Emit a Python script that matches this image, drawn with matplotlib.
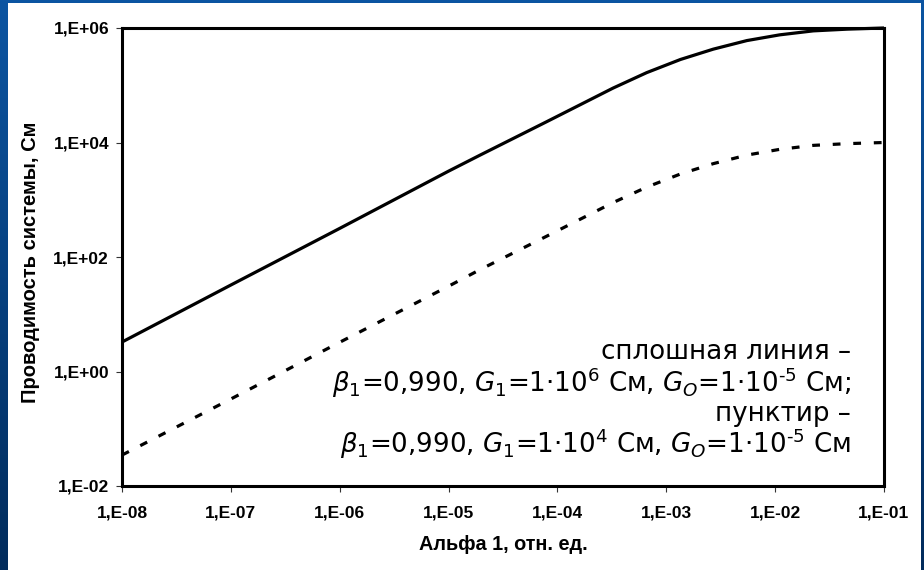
import numpy as np
import matplotlib
matplotlib.use("Agg")
import matplotlib.pyplot as plt
from matplotlib.patches import Rectangle
from matplotlib.colors import LinearSegmentedColormap
from matplotlib.ticker import FixedLocator, FixedFormatter, NullLocator

plt.rcParams['mathtext.fontset'] = 'dejavusans'
plt.rcParams['lines.scale_dashes'] = False

# ---- data ----
alpha = [1e-8, 1e-7, 1e-6, 1e-5, 1.95e-5, 7.9e-5, 3.24e-4, 6.6e-4, 1.35e-3,
         2.7e-3, 5.5e-3, 1.1e-2, 2.24e-2, 4.6e-2, 1e-1]
g_solid = [3.27, 32.4, 316, 3160, 6030, 22900, 89100, 166000, 282000,
           427000, 603000, 759000, 891000, 955000, 1.0e6]
g_dashed = [0.0347, 0.331, 3.24, 30.9, 60.3, 229, 891, 1660, 2820,
            4270, 6030, 7590, 8910, 9550, 10000]

x_ticks = [1e-8, 1e-7, 1e-6, 1e-5, 1e-4, 1e-3, 1e-2, 1e-1]
x_tick_labels = ["1,E-08", "1,E-07", "1,E-06", "1,E-05", "1,E-04", "1,E-03", "1,E-02", "1,E-01"]
y_ticks = [1e-2, 1e0, 1e2, 1e4, 1e6]
y_tick_labels = ["1,E-02", "1,E+00", "1,E+02", "1,E+04", "1,E+06"]

x_label = "Альфа 1, отн. ед."
y_label = "Проводимость системы, См"
note_lines = [
    "сплошная линия –",
    r"$\beta_1$=0,990, $G_{\mathit{1}}$=1·10$^6$ См, $G_{\mathit{O}}$=1·10$^{\text{-5}}$ См;",
    "пунктир –",
    r"$\beta_1$=0,990, $G_{\mathit{1}}$=1·10$^4$ См, $G_{\mathit{O}}$=1·10$^{\text{-5}}$ См",
]

W, H = 924, 570
fig = plt.figure(figsize=(W / 100, H / 100), dpi=100)

# blue slide background gradient
bg = fig.add_axes([0, 0, 1, 1])
grad = np.linspace(0, 1, 256).reshape(-1, 1)
cmap = LinearSegmentedColormap.from_list("bg", ["#0c55a2", "#022c5c"])
bg.imshow(grad, aspect='auto', cmap=cmap, extent=[0, 1, 0, 1], origin='upper')
bg.set_axis_off()
bg.add_patch(Rectangle((8 / W, 0), (921 - 8) / W, (H - 3) / H, transform=bg.transAxes,
                       facecolor='white', edgecolor='none'))

ax = fig.add_axes([122 / W, (H - 486) / H, (884 - 122) / W, (486 - 28) / H])
ax.set_facecolor('white')
ax.plot(alpha, g_solid, color='black', lw=2.3, clip_on=False, solid_capstyle='butt',
        solid_joinstyle='round', zorder=3)
ax.plot(alpha, g_dashed, color='black', lw=2.3, dashes=(5.6, 9.2), clip_on=False, zorder=3)

ax.set_xscale('log')
ax.set_yscale('log')
ax.set_xlim(1e-8, 1e-1)
ax.set_ylim(1e-2, 1e6)

ax.xaxis.set_major_locator(FixedLocator(x_ticks))
ax.xaxis.set_major_formatter(FixedFormatter(x_tick_labels))
ax.xaxis.set_minor_locator(NullLocator())
ax.yaxis.set_major_locator(FixedLocator(y_ticks))
ax.yaxis.set_major_formatter(FixedFormatter(y_tick_labels))
ax.yaxis.set_minor_locator(NullLocator())

for sp in ax.spines.values():
    sp.set_linewidth(2.2)
    sp.set_color('black')

ax.tick_params(axis='both', direction='out', length=4.3, width=0.8, color='#333333')
ax.tick_params(axis='x', pad=9.5)
ax.tick_params(axis='y', pad=5)
for lab in ax.get_xticklabels() + ax.get_yticklabels():
    lab.set_fontfamily('Liberation Sans')
    lab.set_fontweight('bold')
    lab.set_fontsize(12.5)

fig.text(503 / W, 1 - 545 / H, x_label, ha='center', va='center',
         fontfamily='Liberation Sans', fontweight='bold', fontsize=14.3)
fig.text(31 / W, 1 - 262 / H, y_label, ha='center', va='center', rotation=90,
         fontfamily='Liberation Sans', fontweight='bold', fontsize=14.5)

baselines = [359, 392, 421, 453]
for line, b in zip(note_lines, baselines):
    fig.text(851 / W, 1 - b / H, line, ha='right', va='baseline',
             fontfamily='DejaVu Sans', fontsize=18.8, color='black')

fig.savefig("out.png", dpi=100)
